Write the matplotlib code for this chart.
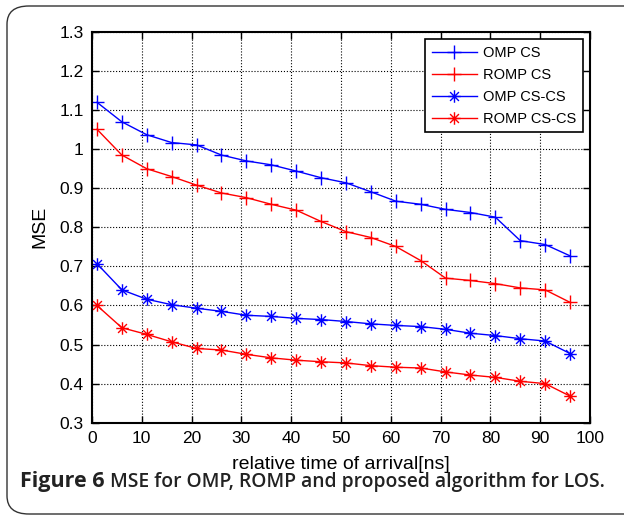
import numpy as np
import matplotlib.pyplot as plt
from matplotlib.patches import FancyBboxPatch
from matplotlib.path import Path

# data
t = [1, 6, 11, 16, 21, 26, 31, 36, 41, 46, 51, 56, 61, 66, 71, 76, 81, 86, 91, 96]
omp_cs = [1.120, 1.070, 1.037, 1.017, 1.011, 0.985, 0.970, 0.960, 0.944, 0.927,
          0.914, 0.891, 0.867, 0.859, 0.846, 0.838, 0.826, 0.766, 0.756, 0.727]
romp_cs = [1.051, 0.985, 0.950, 0.930, 0.908, 0.888, 0.876, 0.859, 0.844, 0.815,
           0.789, 0.774, 0.751, 0.715, 0.670, 0.664, 0.656, 0.645, 0.640, 0.608]
omp_cscs = [0.707, 0.640, 0.616, 0.602, 0.593, 0.585, 0.575, 0.572, 0.567, 0.564,
            0.559, 0.553, 0.549, 0.546, 0.539, 0.529, 0.523, 0.515, 0.509, 0.477]
romp_cscs = [0.600, 0.543, 0.526, 0.507, 0.490, 0.486, 0.475, 0.466, 0.460, 0.456,
             0.453, 0.446, 0.442, 0.440, 0.430, 0.422, 0.416, 0.406, 0.400, 0.368]

xticks = np.arange(0, 101, 10)
yticks = np.arange(0.3, 1.31, 0.1)
ylabels = ['0.3', '0.4', '0.5', '0.6', '0.7', '0.8', '0.9', '1', '1.1', '1.2', '1.3']

plt.rcParams['font.family'] = ['Liberation Sans', 'DejaVu Sans']

# matlab-like asterisk marker (+ and x together)
d = 0.7071
ast = Path([(-1, 0), (1, 0), (0, -1), (0, 1), (-d, -d), (d, d), (-d, d), (d, -d)],
           [Path.MOVETO, Path.LINETO] * 4)

fig = plt.figure(figsize=(6.24, 5.2), dpi=100)

# rounded frame around figure + caption
frame = FancyBboxPatch((7 / 624, 6 / 520), 640 / 624, 508 / 520,
                       boxstyle="round,pad=0,rounding_size=0.035",
                       transform=fig.transFigure, fill=False,
                       edgecolor='#333333', linewidth=1.0, clip_on=False)
fig.patches.append(frame)

ax = fig.add_axes([92 / 624, 1 - 422.7 / 520, 498 / 624, 390.7 / 520])

ax.plot(t, omp_cs, color='blue', marker='+', ms=10, mew=1, lw=1, label='OMP CS')
ax.plot(t, romp_cs, color='red', marker='+', ms=10, mew=1, lw=1, label='ROMP CS')
ax.plot(t, omp_cscs, color='blue', marker=ast, ms=9, mew=1, mfc='none', lw=1, label='OMP CS-CS')
ax.plot(t, romp_cscs, color='red', marker=ast, ms=9, mew=1, mfc='none', lw=1, label='ROMP CS-CS')

ax.set_xlim(0, 100)
ax.set_ylim(0.3, 1.3)
ax.set_xticks(xticks)
ax.set_yticks(yticks)
ax.set_yticklabels(ylabels)
ax.tick_params(direction='in', top=True, right=True, labelsize=12.5, length=5, width=1, pad=6)
ax.grid(True, color='black', linestyle=':', linewidth=0.8)
for s in ax.spines.values():
    s.set_linewidth(1.5)

ax.set_xlabel('relative time of arrival[ns]', fontsize=14, labelpad=7)
ax.set_ylabel('MSE', fontsize=14, labelpad=8)

leg = ax.legend(loc='upper right', fontsize=10.5, fancybox=False, framealpha=1,
                edgecolor='black', borderaxespad=0.5, handlelength=3.1,
                handletextpad=0.4, labelspacing=0.55, borderpad=0.45)
leg.get_frame().set_linewidth(1.2)

cap_font = ['Open Sans', 'DejaVu Sans']
fig.text(20 / 624, 1 - 482 / 520, 'Figure 6', fontsize=15.5, fontweight='bold',
         family=cap_font, va='center', ha='left', color='#222222')
fig.text(110 / 624, 1 - 482 / 520, 'MSE for OMP, ROMP and proposed algorithm for LOS.',
         fontsize=13.9, fontweight='semibold', family=cap_font,
         va='center', ha='left', color='#222222')

fig.savefig('out.png', dpi=100)
